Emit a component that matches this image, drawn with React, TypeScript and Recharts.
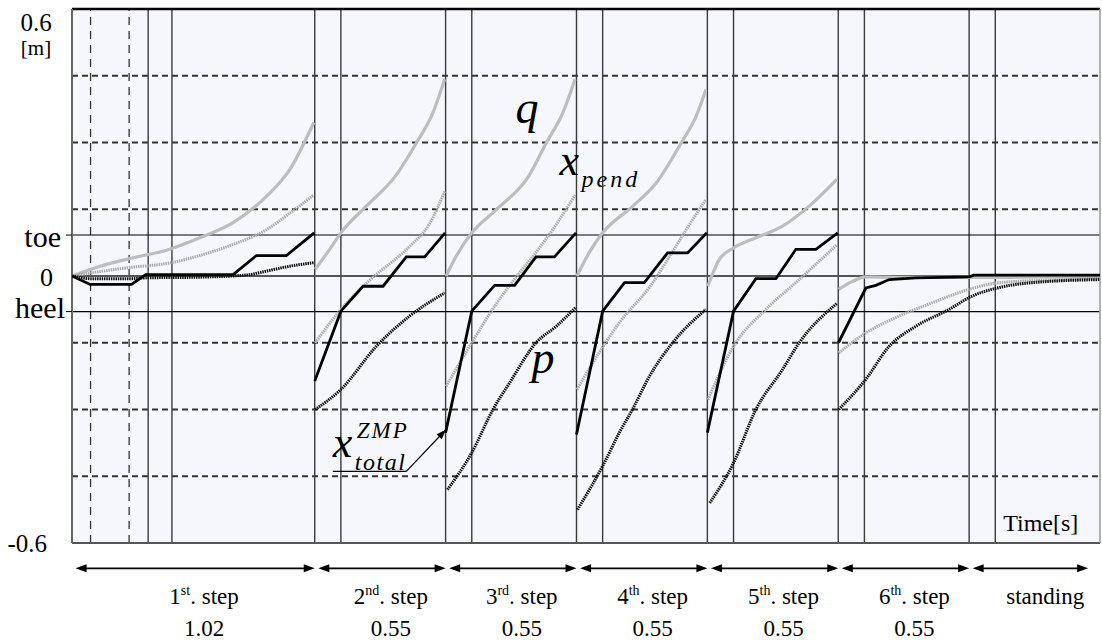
import {
    LineChart,
    Line,
    XAxis,
    YAxis,
    ReferenceLine,
    ReferenceArea,
    ReferenceDot,
} from "recharts";

// --- AXIS / PHASE DATA ---
const T_END = 4.32;
const TOE = 0.092;
const HEEL = -0.08;

const phaseStarts = [0, 1.02, 1.57, 2.12, 2.67, 3.22, 3.77];
const phaseNums = ["1", "2", "3", "4", "5", "6", ""];
const phaseSups = ["st", "nd", "rd", "th", "th", "th", ""];
const phaseNames = [". step", ". step", ". step", ". step", ". step", ". step", "standing"];
const phaseDurations = ["1.02", "0.55", "0.55", "0.55", "0.55", "0.55", ""];

const supportLines = [0.32, 0.42, 1.13, 1.68, 2.23, 2.78, 3.33, 3.88];
const dashedVLines = [0.078, 0.24];
const dashedHLines = [0.45, 0.3, 0.15, -0.15, -0.3, -0.45];

const yTickValues = [0.6, TOE, 0, HEEL, -0.6];

// --- SERIES DATA: [time, value], null breaks a segment ---
const zmpPts: [number, number | null][] = [
    [0, 0], [0.076, -0.019], [0.25, -0.019], [0.31, 0.003], [0.677, 0.003], [0.775, 0.046], [0.901, 0.046], [1.018, 0.097], [1.019, null],
    [1.02, -0.236], [1.13, -0.079], [1.223, -0.023], [1.307, -0.023], [1.405, 0.043], [1.482, 0.043], [1.568, 0.097], [1.569, null],
    [1.57, -0.352], [1.68, -0.079], [1.776, -0.021], [1.86, -0.021], [1.95, 0.043], [2.027, 0.043], [2.118, 0.097], [2.119, null],
    [2.12, -0.356], [2.23, -0.079], [2.322, -0.015], [2.405, -0.015], [2.503, 0.052], [2.587, 0.052], [2.668, 0.097], [2.669, null],
    [2.67, -0.352], [2.78, -0.079], [2.874, -0.006], [2.958, -0.006], [3.042, 0.06], [3.126, 0.06], [3.218, 0.097], [3.219, null],
    [3.221, -0.15], [3.336, -0.027], [3.378, -0.021], [3.434, -0.008], [3.546, -0.004], [3.77, -0.002], [3.79, 0.002], [4.32, 0.002],
];

const qPts: [number, number | null][] = [
    [0, 0], [0.118, 0.022], [0.257, 0.041], [0.397, 0.058], [0.537, 0.086], [0.677, 0.12], [0.817, 0.179], [0.915, 0.239], [1.016, 0.345], [1.018, null],
    [1.022, 0.015], [1.083, 0.06], [1.13, 0.097], [1.237, 0.157], [1.36, 0.225], [1.447, 0.299], [1.517, 0.367], [1.566, 0.442], [1.568, null],
    [1.572, 0], [1.615, 0.045], [1.68, 0.097], [1.783, 0.149], [1.92, 0.225], [1.993, 0.299], [2.063, 0.367], [2.114, 0.442], [2.117, null],
    [2.122, 0], [2.174, 0.053], [2.23, 0.097], [2.357, 0.157], [2.455, 0.209], [2.56, 0.299], [2.623, 0.359], [2.664, 0.419], [2.667, null],
    [2.672, -0.023], [2.72, 0.037], [2.78, 0.063], [2.874, 0.086], [2.986, 0.112], [3.098, 0.157], [3.214, 0.217], [3.217, null],
    [3.222, -0.03], [3.28, -0.012], [3.336, -0.002], [3.5, -0.003], [3.77, -0.003], [4.32, -0.002],
];

const pendPts: [number, number | null][] = [
    [0, 0], [0.118, 0.01], [0.257, 0.02], [0.397, 0.028], [0.537, 0.046], [0.677, 0.071], [0.817, 0.104], [0.915, 0.141], [1.016, 0.182], [1.018, null],
    [1.022, -0.15], [1.13, -0.075], [1.25, -0.01], [1.42, 0.067], [1.5, 0.115], [1.566, 0.19], [1.568, null],
    [1.572, -0.248], [1.68, -0.15], [1.78, -0.065], [1.87, 0], [1.96, 0.06], [2.04, 0.12], [2.114, 0.182], [2.117, null],
    [2.122, -0.255], [2.23, -0.16], [2.3, -0.105], [2.427, -0.025], [2.524, 0.055], [2.6, 0.12], [2.664, 0.172], [2.667, null],
    [2.672, -0.278], [2.78, -0.158], [2.916, -0.075], [3.056, -0.008], [3.214, 0.07], [3.217, null],
    [3.222, -0.173], [3.336, -0.128], [3.476, -0.09], [3.616, -0.06], [3.77, -0.03], [3.896, -0.015], [4.176, -0.008], [4.32, -0.004],
];

const pPts: [number, number | null][] = [
    [0, 0], [0.0785, -0.006], [0.24, -0.006], [0.319, -0.004], [0.5, -0.003], [0.73, 0.002], [0.817, 0.011], [0.915, 0.022], [1.016, 0.03], [1.018, null],
    [1.022, -0.3], [1.13, -0.255], [1.279, -0.158], [1.419, -0.09], [1.566, -0.038], [1.568, null],
    [1.578, -0.48], [1.68, -0.397], [1.769, -0.3], [1.839, -0.24], [1.95, -0.15], [2.035, -0.113], [2.116, -0.071], [2.118, null],
    [2.124, -0.525], [2.23, -0.427], [2.3, -0.352], [2.355, -0.3], [2.427, -0.225], [2.524, -0.15], [2.664, -0.075], [2.667, null],
    [2.68, -0.51], [2.78, -0.42], [2.874, -0.3], [2.986, -0.21], [3.056, -0.15], [3.214, -0.062], [3.217, null],
    [3.222, -0.3], [3.336, -0.232], [3.434, -0.158], [3.546, -0.113], [3.686, -0.075], [3.783, -0.045], [3.896, -0.026], [4.034, -0.015], [4.32, -0.008],
];

const toRows = (pts: [number, number | null][]) => pts.map(([t, v]) => ({ t, v }));

const SERIF = "Liberation Serif, DejaVu Serif, serif";

// rows (in axis units) for text below the plot
const ARROW_V = -0.657;
const LABEL_V = -0.738;

const txt = (size: number, extra: Record<string, any> = {}) => ({
    style: { fontFamily: SERIF, fontSize: size, ...extra },
    fill: "#000",
});

const YTick = (props: any) => {
    const { x, y, payload } = props;
    const v = payload.value;
    if (v === 0.6)
        return (
            <g>
                <text x={x - 36} y={y + 22} textAnchor="middle" {...txt(25)}>0.6</text>
                <text x={x - 36} y={y + 46} textAnchor="middle" {...txt(21)}>[m]</text>
            </g>
        );
    if (v === -0.6)
        return <text x={x - 25} y={y + 9} textAnchor="end" {...txt(25)}>-0.6</text>;
    if (v === 0)
        return <text x={x - 19} y={y + 10} textAnchor="end" {...txt(26)}>0</text>;
    const isToe = v === TOE;
    return (
        <g>
            <line x1={x - 6} x2={x} y1={y} y2={y} stroke="#000" strokeWidth={1} />
            <text x={x - (isToe ? 11 : 7)} y={y + (isToe ? 12 : 6)} textAnchor="end" {...txt(30)}>
                {isToe ? "toe" : "heel"}
            </text>
        </g>
    );
};

const arrowHead = (x1: number, y1: number, x2: number, y2: number, len = 11, half = 4) => {
    const a = Math.atan2(y2 - y1, x2 - x1);
    const bx = x2 - len * Math.cos(a);
    const by = y2 - len * Math.sin(a);
    const nx = -Math.sin(a) * half;
    const ny = Math.cos(a) * half;
    return `${x2},${y2} ${bx + nx},${by + ny} ${bx - nx},${by - ny}`;
};

const DoubleArrow = (props: any) => {
    const { x1, y1, x2, y2 } = props;
    return (
        <g>
            <line x1={x1 + 4} y1={y1} x2={x2 - 4} y2={y2} stroke="#000" strokeWidth={1.6} />
            <polygon points={arrowHead(x2, y2, x1, y1)} fill="#000" />
            <polygon points={arrowHead(x1, y1, x2, y2)} fill="#000" />
        </g>
    );
};

const SingleArrow = (props: any) => {
    const { x1, y1, x2, y2 } = props;
    return (
        <g>
            <line x1={x1} y1={y1} x2={x2} y2={y2} stroke="#000" strokeWidth={1.2} />
            <polygon points={arrowHead(x1, y1, x2, y2, 10, 3.5)} fill="#000" />
        </g>
    );
};

const PlainLine = (props: any) => {
    const { x1, y1, x2, y2 } = props;
    return <line x1={x1} y1={y1} x2={x2} y2={y2} stroke="#000" strokeWidth={1.2} />;
};

const PhaseLabel = (i: number) => (props: any) => {
    const { cx, cy } = props;
    return (
        <g>
            <text x={cx} y={cy} textAnchor="middle" {...txt(23)}>
                {phaseNums[i]}
                {phaseSups[i] && (
                    <tspan style={{ fontSize: 14 }} dy={-9}>{phaseSups[i]}</tspan>
                )}
                <tspan dy={phaseSups[i] ? 9 : 0}>{phaseNames[i]}</tspan>
            </text>
            {phaseDurations[i] && (
                <text x={cx} y={cy + 32} textAnchor="middle" {...txt(23)}>{phaseDurations[i]}</text>
            )}
        </g>
    );
};

const it = (size: number, spacing = 0) => txt(size, { fontStyle: "italic", letterSpacing: spacing });

const QLabel = (props: any) => (
    <text x={props.cx} y={props.cy} {...it(46)}>q</text>
);
const PLabel = (props: any) => (
    <text x={props.cx} y={props.cy} {...it(46)}>p</text>
);
const PendLabel = (props: any) => (
    <g>
        <text x={props.cx} y={props.cy} {...it(44)}>x</text>
        <text x={props.cx + 22} y={props.cy + 12} {...it(24, 3)}>pend</text>
    </g>
);
const ZmpLabel = (props: any) => (
    <g>
        <text x={props.cx} y={props.cy} {...it(44)}>x</text>
        <text x={props.cx + 24} y={props.cy - 19} {...it(23, 2)}>ZMP</text>
        <text x={props.cx + 22} y={props.cy + 13} {...it(24, 1.5)}>total</text>
    </g>
);
const TimeLabel = (props: any) => (
    <text x={props.cx} y={props.cy} {...txt(24)}>Time[s]</text>
);

export default function App() {
    const phaseEnds = [...phaseStarts.slice(1), T_END];
    return (
        <div style={{ position: "absolute", left: 0, top: 0, width: 1102, height: 641, background: "#fff", fontFamily: SERIF }}>
            <LineChart width={1102} height={641} margin={{ top: 9, right: 2, bottom: 98, left: 0 }}>
                <XAxis type="number" dataKey="t" domain={[0, T_END]} hide allowDataOverflow />
                <YAxis
                    type="number"
                    domain={[-0.6, 0.6]}
                    ticks={yTickValues}
                    interval={0}
                    width={72}
                    axisLine={false}
                    tickLine={false}
                    tickSize={0}
                    tickMargin={0}
                    tick={<YTick />}
                    allowDataOverflow
                />
                <ReferenceArea x1={0} x2={T_END} y1={-0.6} y2={0.6} fill="#f6f7fd" fillOpacity={1} stroke="none" />

                {dashedHLines.map((v) => (
                    <ReferenceLine key={"dh" + v} y={v} stroke="#333" strokeWidth={2} strokeDasharray="6 4" />
                ))}
                {dashedVLines.map((t) => (
                    <ReferenceLine key={"dv" + t} x={t} stroke="#333" strokeWidth={1.3} strokeDasharray="8 6" />
                ))}
                {[...phaseStarts.slice(1), ...supportLines].map((t) => (
                    <ReferenceLine key={"sv" + t} x={t} stroke="#3a3a3a" strokeWidth={1.4} />
                ))}
                <ReferenceLine y={TOE} stroke="#000" strokeWidth={1.1} />
                <ReferenceLine y={HEEL} stroke="#000" strokeWidth={1.1} />
                <ReferenceLine y={0} stroke="#555" strokeWidth={2} />
                <ReferenceLine y={0.6} stroke="#000" strokeWidth={2.5} />
                <ReferenceLine y={-0.6} stroke="#555" strokeWidth={2} />
                <ReferenceLine x={0} stroke="#666" strokeWidth={2} />
                <ReferenceLine x={T_END} stroke="#999" strokeWidth={1.5} />

                <Line data={toRows(qPts)} dataKey="v" type="monotone" stroke="#bdbdbd" strokeWidth={3.2} dot={false} isAnimationActive={false} />
                <Line data={toRows(pendPts)} dataKey="v" type="monotone" stroke="#aaaaaa" strokeWidth={3} strokeDasharray="1.5 0.8" dot={false} isAnimationActive={false} />
                <Line data={toRows(pPts)} dataKey="v" type="monotone" stroke="#111" strokeWidth={3} strokeDasharray="1.5 0.8" dot={false} isAnimationActive={false} />
                <Line data={toRows(zmpPts)} dataKey="v" type="linear" stroke="#000" strokeWidth={2.8} dot={false} isAnimationActive={false} />

                {phaseStarts.map((s, i) => (
                    <ReferenceLine
                        key={"arr" + i}
                        segment={[
                            { x: s + 0.015, y: ARROW_V },
                            { x: i === phaseStarts.length - 1 ? phaseEnds[i] - 0.05 : phaseEnds[i], y: ARROW_V },
                        ]}
                        ifOverflow="visible"
                        shape={<DoubleArrow />}
                    />
                ))}
                {phaseStarts.map((s, i) => (
                    <ReferenceDot
                        key={"lab" + i}
                        x={(s + phaseEnds[i]) / 2 + 0.045}
                        y={LABEL_V}
                        ifOverflow="visible"
                        shape={PhaseLabel(i)}
                    />
                ))}

                <ReferenceDot x={1.864} y={0.343} ifOverflow="visible" shape={QLabel} />
                <ReferenceDot x={2.049} y={0.228} ifOverflow="visible" shape={PendLabel} />
                <ReferenceDot x={1.931} y={-0.219} ifOverflow="visible" shape={PLabel} />
                <ReferenceDot x={1.096} y={-0.406} ifOverflow="visible" shape={ZmpLabel} />
                <ReferenceLine segment={[{ x: 1.096, y: -0.439 }, { x: 1.405, y: -0.439 }]} ifOverflow="visible" shape={<PlainLine />} />
                <ReferenceLine segment={[{ x: 1.405, y: -0.439 }, { x: 1.572, y: -0.345 }]} ifOverflow="visible" shape={<SingleArrow />} />
                <ReferenceDot x={3.913} y={-0.572} ifOverflow="visible" shape={TimeLabel} />
            </LineChart>
        </div>
    );
}
